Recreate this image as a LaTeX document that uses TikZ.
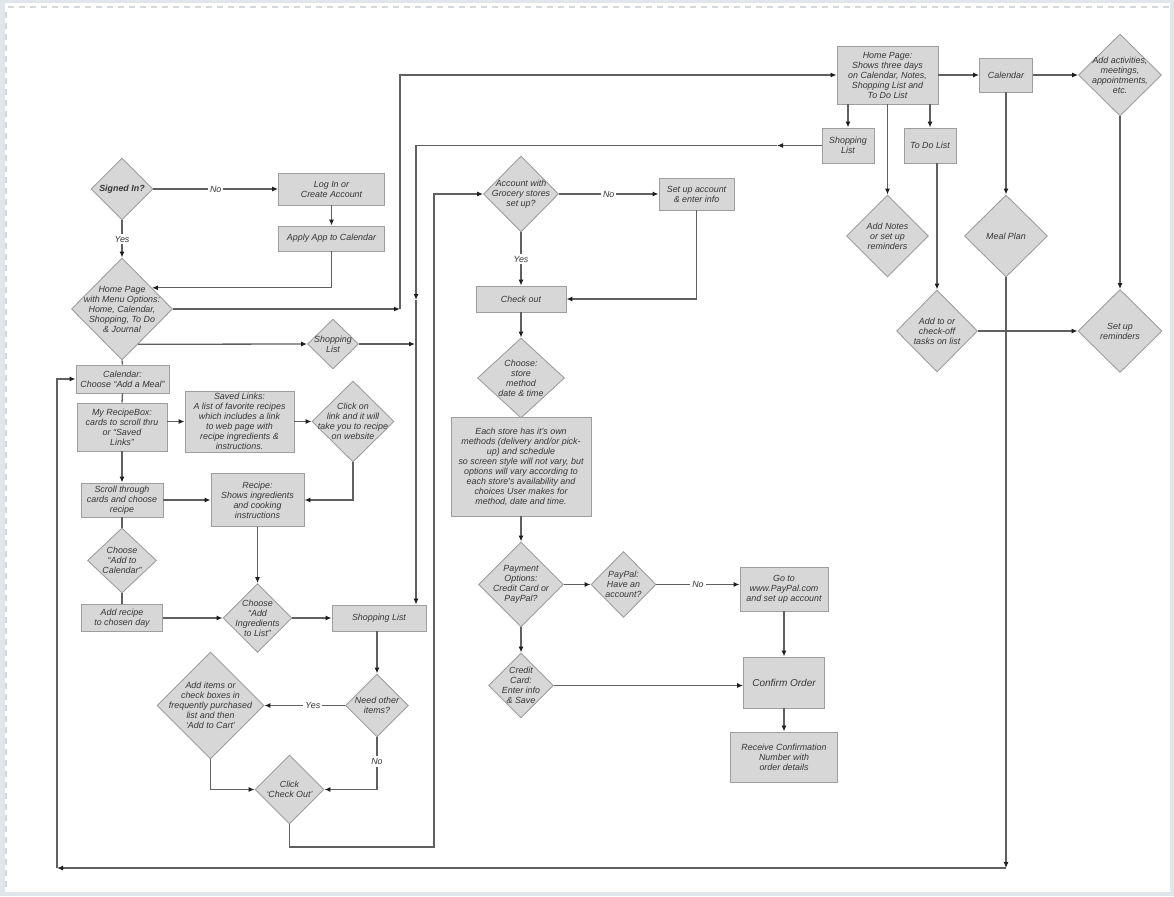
\documentclass[tikz,border=0pt]{standalone}
\usepackage{fontspec}
\setmainfont{Liberation Sans}
\usetikzlibrary{shapes.geometric,arrows.meta,calc}
\definecolor{bgc}{HTML}{E1E5EC}
\definecolor{dashc}{HTML}{D5D7DB}
\definecolor{nfill}{HTML}{D7D7D7}
\definecolor{nbord}{HTML}{9E9E9E}
\definecolor{lcol}{HTML}{606060}
\definecolor{tcol}{HTML}{363636}
\definecolor{tipc}{HTML}{1E1E1E}
\newcommand{\tf}{\itshape\fontsize{8.9}{10}\selectfont}
\newcommand{\tfbig}{\itshape\fontsize{10}{11}\selectfont}
\begin{document}
\begin{tikzpicture}[x=1pt,y=-1pt,
 wh/.style 2 args={minimum width=#1pt, minimum height=#2pt},
 box/.style={draw=nbord, fill=nfill, line width=0.9pt, align=center, inner sep=1pt, font=\tf, text=tcol},
 dia/.style={shape=diamond, draw=nbord, fill=nfill, line width=0.9pt, inner sep=0pt},
 dt/.style={align=center, font=\tf, text=tcol, inner sep=0pt},
 conn/.style={draw=lcol, line width=1.3pt},
 arr/.style={conn, -{Latex[length=6pt,width=5pt,color=tipc]}},
 elab/.style={fill=white, font=\tf, text=tcol, inner sep=2pt},
]
\useasboundingbox (0,0) rectangle (1174,896);
\fill[bgc] (0,0) rectangle (1174,896);
\fill[white] (5,3) rectangle (1170,892);
\draw[dashc, line width=1.3pt, dash pattern=on 6pt off 5pt] (8,7) -- (1170,7);
\draw[dashc, line width=1.3pt, dash pattern=on 6pt off 5pt] (6,12) -- (6,892);

% ---------- left column ----------
\node[dia, wh={62}{62}, label={[dt]center:{\bfseries Signed In?}}] (signed) at (122,189) {};
\node[box, wh={106}{32}] (login) at (331.5,189) {Log In or\\Create Account};
\node[box, wh={106}{25}] (apply) at (331.5,238.5) {Apply App to Calendar};
\node[dia, wh={101}{102}, label={[dt]center:{Home Page\\with Menu Options:\\Home, Calendar,\\Shopping, To Do\\\& Journal}}] (hp) at (122,309) {};
\node[dia, wh={51}{50}, label={[dt]center:{Shopping\\List}}] (sd) at (333,344) {};
\node[box, wh={93}{28}] (calc) at (122.5,379) {Calendar:\\Choose “Add a Meal”};
\node[box, wh={90}{48}] (rb) at (122,427) {My RecipeBox:\\cards to scroll thru\\or “Saved\\Links”};
\node[box, wh={109}{61}] (saved) at (239.5,421.5) {Saved Links:\\A list of favorite recipes\\which includes a link\\to web page with\\recipe ingredients \&\\instructions.};
\node[dia, wh={82}{81}, label={[dt]center:{Click on\\link and it will\\take you to recipe\\on website}}] (ck) at (353,421.5) {};
\node[box, wh={93}{53}] (recipe) at (257.5,500) {Recipe:\\Shows ingredients\\and cooking\\instructions};
\node[box, wh={82}{34}] (scroll) at (122,500) {Scroll through\\cards and choose\\recipe};
\node[dia, wh={69}{65}, label={[dt]center:{Choose\\“Add to\\Calendar”}}] (cac) at (122,560.5) {};
\node[box, wh={81}{27}] (addrecipe) at (122,618) {Add recipe\\to chosen day};
\node[dia, wh={69}{69}, label={[dt]center:{Choose\\“Add\\Ingredients\\to List”}}] (cai) at (257.5,618) {};
\node[box, wh={94}{26}] (sl) at (379,618) {Shopping List};
\node[dia, wh={63}{63}, label={[dt]center:{Need other\\items?}}] (need) at (377,705.5) {};
\node[dia, wh={107}{107}, label={[dt]center:{Add items or\\check boxes in\\frequently purchased\\list and then\\‘Add to Cart’}}] (additems) at (210.5,705.5) {};
\node[dia, wh={69}{69}, label={[dt]center:{Click\\‘Check Out’}}] (click) at (289.5,789.5) {};

% ---------- middle column ----------
\node[dia, wh={75}{76}, label={[dt]center:{Account with\\Grocery stores\\set up?}}] (acct) at (521,194) {};
\node[box, wh={75}{32}] (setup) at (696.5,194) {Set up account\\\& enter info};
\node[box, wh={90}{26}] (checkout) at (521,299) {Check out};
\node[dia, wh={87}{80}, label={[dt]center:{Choose:\\store\\method\\date \& time}}] (choose) at (521,378) {};
\node[box, wh={140}{99}] (bigbox) at (521,466.5) {Each store has it’s own\\methods (delivery and/or pick-\\up) and schedule\\so screen style will not vary, but\\options will vary according to\\each store’s availability and\\choices User makes for\\method, date and time.};
\node[dia, wh={85}{85}, label={[dt]center:{Payment\\Options:\\Credit Card or\\PayPal?}}] (payment) at (521,584.5) {};
\node[dia, wh={65}{66}, label={[dt]center:{PayPal:\\Have an\\account?}}] (paypal) at (623.5,584.5) {};
\node[box, wh={88}{44}] (goto) at (784,589) {Go to\\www.PayPal.com\\and set up account};
\node[dia, wh={65}{65}, label={[dt]center:{Credit\\Card:\\Enter info\\\& Save}}] (credit) at (521,685.5) {};
\node[box, wh={81}{51}, font=\tfbig] (confirm) at (784,682.5) {Confirm Order};
\node[box, wh={107}{50}] (receive) at (784,757) {Receive Confirmation\\Number with\\order details};

% ---------- right column ----------
\node[box, wh={101}{58}] (hp2) at (887.5,75) {Home Page:\\Shows three days\\on Calendar, Notes,\\Shopping List and\\To Do List};
\node[box, wh={53}{34}] (cal) at (1006,75) {Calendar};
\node[dia, wh={83}{82}, label={[dt]center:{Add activities,\\meetings,\\appointments,\\etc.}}] (act) at (1120,75) {};
\node[box, wh={52}{35}] (sl2) at (848,145.5) {Shopping\\List};
\node[box, wh={52}{35}] (todo) at (930,145.5) {To Do List};
\node[dia, wh={82}{82}, label={[dt]center:{Add Notes\\or set up\\reminders}}] (notes) at (887.5,236) {};
\node[dia, wh={83}{82}, label={[dt]center:{Meal Plan}}] (meal) at (1006,236) {};
\node[dia, wh={81}{82}, label={[dt]center:{Add to or\\check-off\\tasks on list}}] (addto) at (937,331) {};
\node[dia, wh={84}{83}, label={[dt]center:{Set up\\reminders}}] (rem) at (1120,331) {};

% ---------- connectors ----------
\draw[arr] (signed.east) -- node[elab]{No} (signed.east -| login.west);
\draw[arr] (login.south) -- (apply.north);
\draw[arr] (signed.south) -- node[elab]{Yes} (hp.north);
\draw[arr] (apply.south) |- ($(hp.north)!0.588!(hp.east)$);
\coordinate (c1) at (400,309);
\draw[arr] (hp.east) -- (c1);
\draw[arr] (c1) |- (hp2.west);
\draw[arr] ($(hp.east)!0.686!(hp.south)$) -- (sd.west);
\coordinate (c4) at (415,344);
\draw[arr] (sd.east) -- (c4);
\coordinate (c2) at (777,145.5);
\draw[arr] (sl2.west) -- (c2);
\coordinate (c3) at (416,300);
\draw[arr] (c2) -| (c3);
\draw[arr] (c3) -- (c3 |- sl.north);
\draw[conn] (hp.south) -- (calc.north);
\draw[conn] (calc.south) -- (rb.north);
\draw[arr] (saved.west -| rb.east) -- (saved.west);
\draw[arr] (saved.east) -- (ck.west);
\draw[arr] (ck.south) |- (recipe.east);
\draw[arr] (rb.south) -- (scroll.north);
\draw[arr] (scroll.east) -- (recipe.west);
\draw[conn] (scroll.south) -- (cac.north);
\draw[conn] (cac.south) -- (addrecipe.north);
\draw[arr] (addrecipe.east) -- (cai.west);
\draw[arr] (recipe.south) -- (cai.north);
\draw[arr] (cai.east) -- (sl.west);
\draw[arr] (need.north |- sl.south) -- (need.north);
\draw[arr] (need.west) -- node[elab, pos=0.4]{Yes} (additems.east);
\draw[arr] (need.south) |- node[elab, pos=0.23]{No} (click.east);
\draw[arr] (additems.south) |- (click.west);
\coordinate (c5) at (434,847);
\draw[arr] (click.south) |- (c5) |- (acct.west);
\draw[arr] (acct.east) -- node[elab]{No} (acct.east -| setup.west);
\draw[arr] (acct.south) -- node[elab]{Yes} (checkout.north);
\draw[arr] (setup.south) |- (checkout.east);
\draw[arr] (checkout.south) -- (choose.north);
\draw[arr] (bigbox.south) -- (payment.north);
\draw[arr] (payment.east) -- (paypal.west);
\draw[arr] (paypal.east) -- node[elab]{No} (paypal.east -| goto.west);
\draw[arr] (goto.south) -- (confirm.north);
\draw[arr] (confirm.south) -- (receive.north);
\draw[arr] (payment.south) -- (credit.north);
\draw[arr] (credit.east) -- (credit.east -| confirm.west);
\draw[arr] (hp2.east) -- (cal.west);
\draw[arr] (cal.east) -- (act.west);
\draw[arr] (act.south) -- (rem.north);
\draw[arr] (sl2.north |- hp2.south) -- (sl2.north);
\draw[arr] (hp2.south) -- (notes.north);
\draw[arr] (todo.north |- hp2.south) -- (todo.north);
\draw[arr] (addto.north |- todo.south) -- (addto.north);
\draw[arr] (addto.east) -- (rem.west);
\draw[arr] (cal.south) -- (meal.north);
\coordinate (c6) at (1006,868);
\draw[arr] (meal.south) -- (c6);
\coordinate (c7) at (57,868);
\draw[arr] (c6) -- (c7);
\draw[arr] (c7) |- (calc.west);
\end{tikzpicture}
\end{document}
